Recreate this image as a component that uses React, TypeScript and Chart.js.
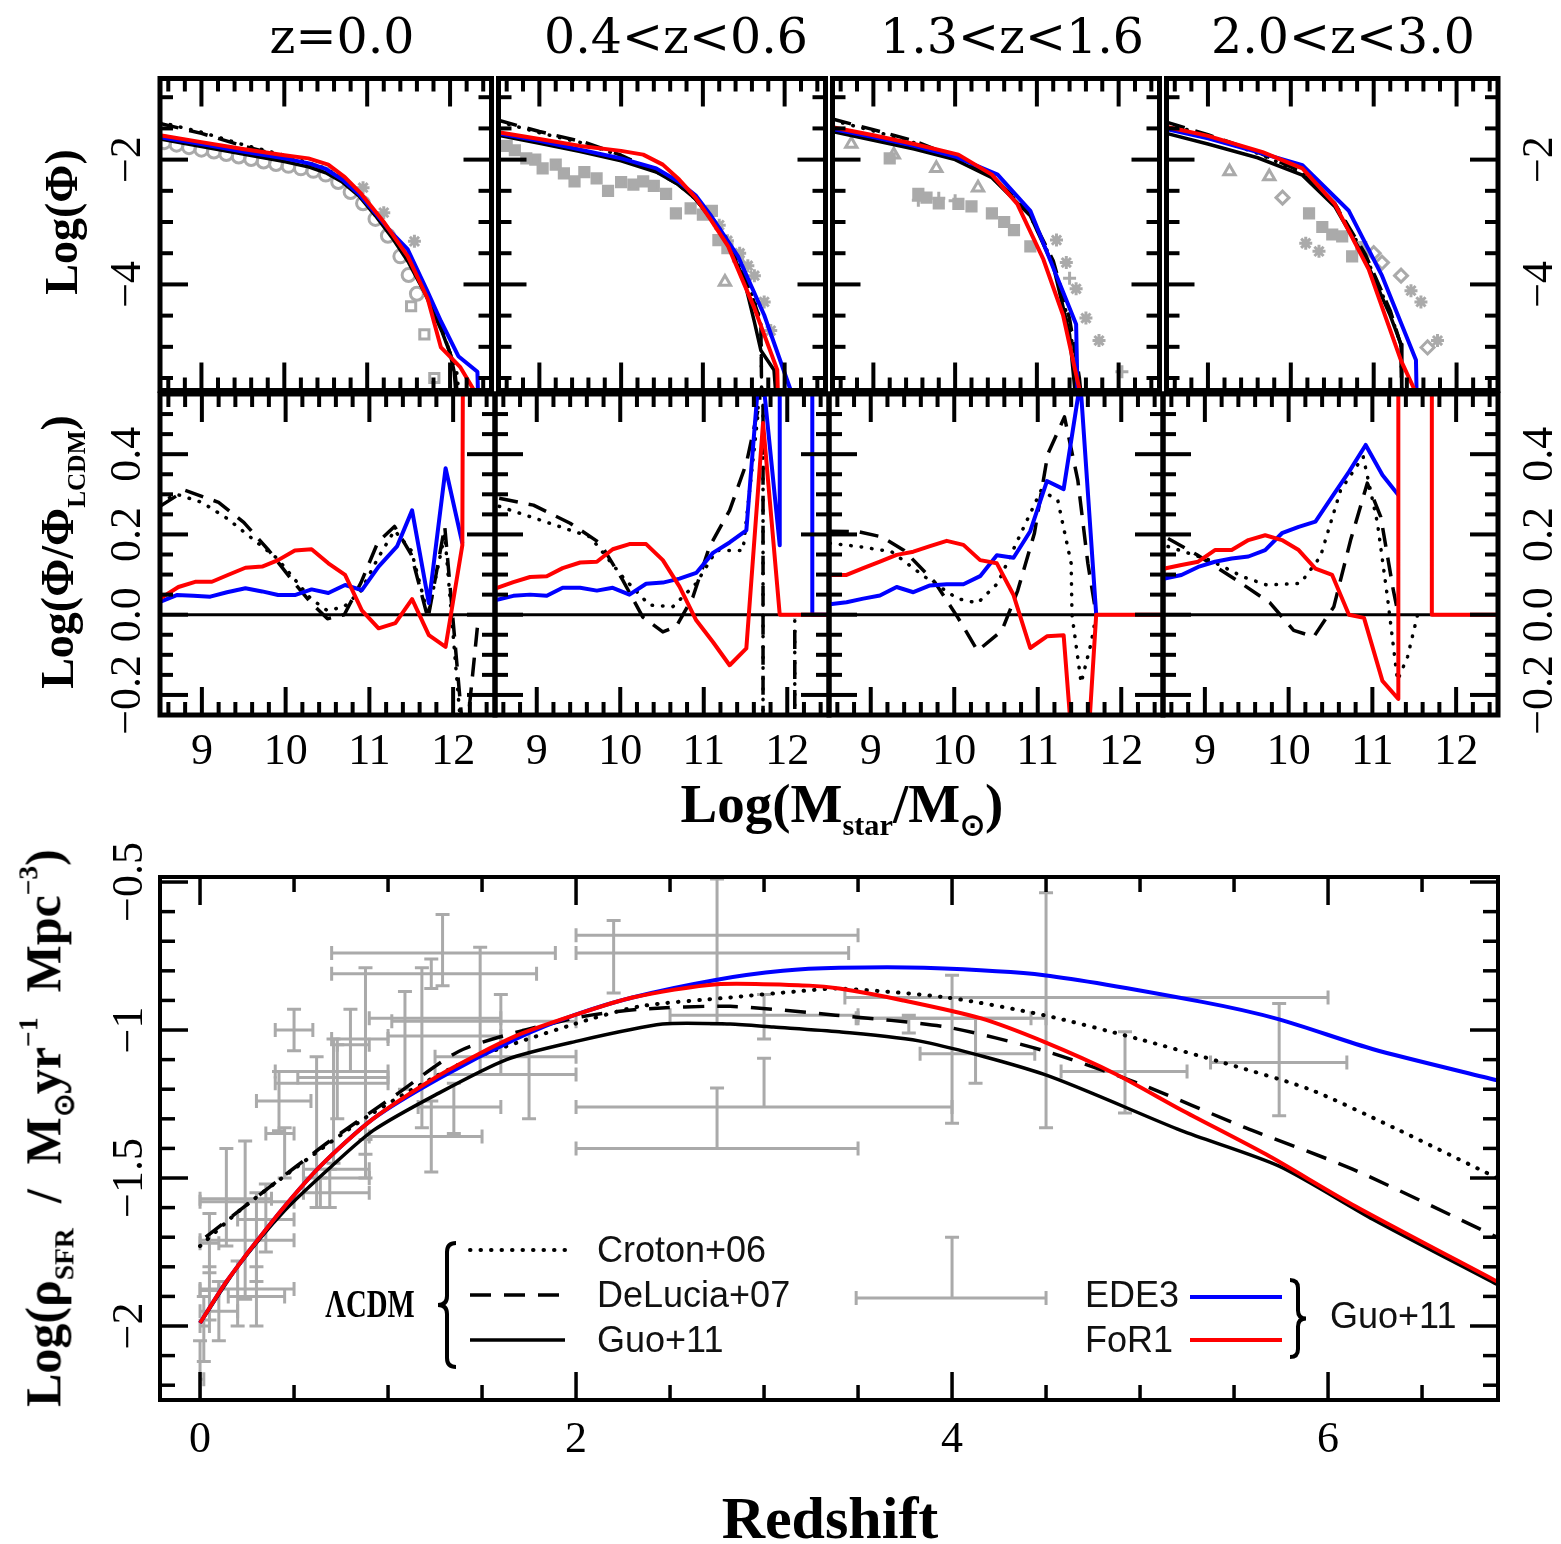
import React, { useEffect, useRef } from 'react';
import { Chart, registerables } from 'chart.js';

Chart.register(...registerables);

type XY = [number, number];
// [x, y, xLow, xHigh, yLow, yHigh]
type Bar = [number, number, number, number, number, number];

// ---------- Stellar mass functions: log(Phi) vs log(Mstar) ----------
// z = 0.0
const mfZ0For1: XY[] = [[8.5,-1.61],[9.0,-1.72],[9.5,-1.83],[10.0,-1.93],[10.29,-1.98],[10.53,-2.08],[10.73,-2.28],[10.93,-2.55],[11.2,-3.0],[11.49,-3.55],[11.73,-4.23],[11.89,-5.01],[12.12,-5.32],[12.3,-5.72]];
const mfZ0Ede3: XY[] = [[8.5,-1.64],[9.0,-1.75],[9.5,-1.87],[10.0,-1.98],[10.3,-2.06],[10.5,-2.15],[10.7,-2.32],[10.9,-2.55],[11.1,-2.86],[11.3,-3.18],[11.49,-3.44],[11.73,-4.12],[11.89,-4.59],[12.1,-5.15],[12.33,-5.4],[12.34,-5.9]];
const mfZ0Guo: XY[] = [[8.5,-1.67],[9.0,-1.79],[9.5,-1.91],[10.0,-2.03],[10.3,-2.12],[10.5,-2.21],[10.7,-2.36],[10.9,-2.58],[11.1,-2.9],[11.3,-3.25],[11.5,-3.65],[11.7,-4.15],[11.9,-4.75],[12.0,-5.1],[12.05,-5.4],[12.08,-5.9]];
const mfZ0DeLucia: XY[] = [[8.5,-1.42],[9.0,-1.58],[9.5,-1.78],[10.0,-1.95],[10.5,-2.15],[10.7,-2.32],[10.9,-2.55],[11.1,-2.86],[11.3,-3.2],[11.5,-3.6],[11.7,-4.1],[11.9,-4.7],[12.05,-5.3],[12.1,-5.9]];
const mfZ0Croton: XY[] = [[8.5,-1.4],[9.0,-1.56],[9.5,-1.76],[10.0,-1.93],[10.5,-2.14],[10.7,-2.31],[10.9,-2.54],[11.1,-2.85],[11.3,-3.19],[11.5,-3.6],[11.7,-4.12],[11.9,-4.72],[12.08,-5.4],[12.12,-5.9]];
const obsZ0Circles: XY[] = [[8.55,-1.72],[8.7,-1.76],[8.85,-1.8],[9.0,-1.84],[9.15,-1.87],[9.3,-1.91],[9.45,-1.95],[9.6,-1.99],[9.75,-2.03],[9.9,-2.07],[10.05,-2.1],[10.2,-2.14],[10.35,-2.18],[10.5,-2.24],[10.65,-2.36],[10.8,-2.52],[10.95,-2.7],[11.1,-2.95],[11.25,-3.22],[11.4,-3.55],[11.5,-3.85],[11.6,-4.15]];
const obsZ0Squares: XY[] = [[11.53,-4.35],[11.69,-4.8],[11.81,-5.5]];
const obsZ0Stars: XY[] = [[11.57,-3.31],[10.95,-2.45],[11.2,-2.85]];

// 0.4 < z < 0.6
const mfZ05For1: XY[] = [[8.5,-1.56],[9.0,-1.67],[9.5,-1.78],[10.0,-1.86],[10.27,-1.92],[10.51,-2.08],[10.71,-2.32],[10.91,-2.61],[11.1,-2.97],[11.31,-3.39],[11.63,-4.38],[11.91,-5.37],[11.92,-5.9]];
const mfZ05Ede3: XY[] = [[8.5,-1.58],[9.0,-1.7],[9.5,-1.84],[10.0,-1.98],[10.43,-2.14],[10.7,-2.35],[10.91,-2.57],[11.1,-2.9],[11.43,-3.55],[11.75,-4.49],[12.07,-5.68],[12.1,-5.9]];
const mfZ05Guo: XY[] = [[8.5,-1.61],[9.0,-1.74],[9.5,-1.87],[10.0,-2.02],[10.43,-2.2],[10.7,-2.4],[10.91,-2.63],[11.1,-2.95],[11.3,-3.35],[11.5,-3.9],[11.63,-4.6],[11.71,-5.06],[11.87,-5.37],[11.9,-5.9]];
const mfZ05DeLucia: XY[] = [[8.5,-1.37],[9.0,-1.55],[9.55,-1.72],[10.0,-1.93],[10.4,-2.17],[10.7,-2.4],[10.9,-2.62],[11.1,-2.93],[11.3,-3.3],[11.5,-3.8],[11.67,-4.45],[11.71,-4.7],[11.72,-5.9]];
const mfZ05Croton: XY[] = [[8.5,-1.39],[9.0,-1.57],[9.55,-1.74],[10.0,-1.94],[10.4,-2.17],[10.7,-2.39],[10.9,-2.6],[11.1,-2.91],[11.3,-3.28],[11.5,-3.78],[11.67,-4.42],[11.71,-4.65],[11.72,-5.9]];
const obsZ05Squares: XY[] = [[8.6,-1.78],[8.7,-1.85],[8.84,-1.98],[8.95,-2.0],[9.04,-2.14],[9.2,-2.08],[9.3,-2.22],[9.43,-2.35],[9.55,-2.2],[9.7,-2.3],[9.84,-2.5],[10.0,-2.36],[10.15,-2.4],[10.27,-2.35],[10.4,-2.42],[10.55,-2.55],[10.67,-2.86],[10.85,-2.78],[11.0,-2.88],[11.11,-2.82],[11.19,-3.29],[11.3,-3.42],[11.43,-3.55]];
const obsZ05Triangles: XY[] = [[11.27,-3.96]];
const obsZ05Stars: XY[] = [[11.2,-3.05],[11.3,-3.3],[11.45,-3.5],[11.55,-3.7],[11.63,-3.86],[11.75,-4.28],[11.83,-4.74]];

// 1.3 < z < 1.6
const mfZ15For1: XY[] = [[8.5,-1.48],[9.0,-1.61],[9.5,-1.75],[10.04,-1.92],[10.45,-2.24],[10.76,-2.71],[11.08,-3.6],[11.32,-4.49],[11.52,-5.68],[11.54,-5.9]];
const mfZ15Ede3: XY[] = [[8.5,-1.51],[9.0,-1.64],[9.5,-1.78],[10.0,-1.95],[10.52,-2.24],[10.92,-2.82],[11.24,-3.86],[11.48,-4.64],[11.5,-5.9]];
const mfZ15Guo: XY[] = [[8.5,-1.55],[9.0,-1.69],[9.5,-1.83],[10.0,-2.0],[10.45,-2.29],[10.92,-2.9],[11.2,-3.7],[11.4,-4.8],[11.48,-5.9]];
const mfZ15DeLucia: XY[] = [[8.5,-1.35],[9.0,-1.52],[9.5,-1.7],[10.0,-1.96],[10.45,-2.26],[10.9,-2.83],[11.2,-3.62],[11.4,-4.55],[11.52,-5.5],[11.55,-5.9]];
const mfZ15Croton: XY[] = [[8.5,-1.37],[9.0,-1.54],[9.5,-1.73],[10.0,-1.97],[10.45,-2.27],[10.9,-2.85],[11.2,-3.66],[11.4,-4.65],[11.5,-5.6],[11.52,-5.9]];
const obsZ15Triangles: XY[] = [[8.73,-1.75],[9.25,-1.92],[9.77,-2.14],[10.28,-2.45]];
const obsZ15Squares: XY[] = [[9.2,-1.98],[9.55,-2.55],[9.65,-2.61],[9.8,-2.7],[10.04,-2.71],[10.2,-2.75],[10.45,-2.86],[10.6,-3.0],[10.72,-3.13],[10.92,-3.39]];
const obsZ15Crosses: XY[] = [[9.55,-2.65],[9.8,-2.62],[10.0,-2.66],[11.4,-3.9],[12.04,-5.4]];
const obsZ15Stars: XY[] = [[11.24,-3.29],[11.36,-3.65],[11.48,-4.07],[11.6,-4.54],[11.76,-4.9]];

// 2.0 < z < 3.0
const mfZ25For1: XY[] = [[8.52,-1.48],[9.0,-1.62],[9.66,-1.88],[10.14,-2.14],[10.53,-2.71],[10.94,-3.76],[11.33,-5.22],[11.49,-5.68],[11.5,-5.9]];
const mfZ25Ede3: XY[] = [[8.5,-1.51],[9.0,-1.66],[9.6,-1.88],[10.14,-2.09],[10.7,-2.82],[11.1,-3.86],[11.51,-5.21],[11.52,-5.9]];
const mfZ25Guo: XY[] = [[8.5,-1.58],[9.0,-1.75],[9.6,-1.97],[10.14,-2.25],[10.53,-2.75],[10.9,-3.6],[11.2,-4.5],[11.33,-4.96],[11.34,-5.9]];
const mfZ25DeLucia: XY[] = [[8.5,-1.4],[9.0,-1.6],[9.6,-1.88],[10.14,-2.2],[10.53,-2.7],[10.9,-3.52],[11.2,-4.42],[11.33,-4.98],[11.34,-5.9]];
const mfZ25Croton: XY[] = [[8.5,-1.42],[9.0,-1.62],[9.6,-1.9],[10.14,-2.21],[10.53,-2.71],[10.9,-3.54],[11.2,-4.45],[11.33,-4.98],[11.34,-5.9]];
const obsZ25Triangles: XY[] = [[9.26,-2.19],[9.74,-2.27]];
const obsZ25Diamonds: XY[] = [[9.9,-2.61],[11.0,-3.5],[11.1,-3.65],[11.33,-3.86],[11.65,-5.01]];
const obsZ25Squares: XY[] = [[10.22,-2.86],[10.38,-3.08],[10.5,-3.2],[10.62,-3.23],[10.74,-3.55],[10.85,-3.4]];
const obsZ25Stars: XY[] = [[10.18,-3.34],[10.34,-3.47],[11.45,-4.1],[11.57,-4.28],[11.77,-4.9]];

// ---------- log(Phi / Phi_LCDM), relative to Guo+11 LCDM ----------
const ratioZero: XY[] = [[8.5,0],[12.5,0]];
const rZ0For1: XY[] = [[8.5,0.04],[8.72,0.069],[8.92,0.082],[9.12,0.082],[9.31,0.099],[9.52,0.117],[9.72,0.12],[9.91,0.136],[10.11,0.16],[10.31,0.163],[10.51,0.128],[10.71,0.099],[10.91,0.011],[11.11,-0.034],[11.31,-0.021],[11.51,0.039],[11.71,-0.051],[11.91,-0.08],[12.11,0.173],[12.13,1.5]];
const rZ0Ede3: XY[] = [[8.5,0.032],[8.7,0.049],[8.9,0.047],[9.1,0.045],[9.3,0.056],[9.52,0.066],[9.72,0.058],[9.91,0.049],[10.11,0.049],[10.31,0.063],[10.51,0.054],[10.71,0.074],[10.91,0.061],[11.11,0.12],[11.33,0.17],[11.51,0.26],[11.71,0.029],[11.91,0.365],[12.11,0.178]];
const rZ0Croton: XY[] = [[8.5,0.28],[8.7,0.3],[9.0,0.28],[9.3,0.24],[9.6,0.19],[9.9,0.14],[10.1,0.09],[10.3,0.04],[10.5,0.01],[10.7,0.02],[10.9,0.06],[11.1,0.14],[11.3,0.21],[11.5,0.16],[11.7,0.0],[11.9,0.2],[12.1,-0.3]];
const rZ0DeLucia: XY[] = [[8.5,0.27],[8.8,0.31],[9.2,0.28],[9.5,0.23],[9.8,0.16],[10.1,0.08],[10.3,0.03],[10.5,-0.01],[10.7,0.0],[10.9,0.08],[11.1,0.18],[11.3,0.22],[11.5,0.15],[11.7,-0.01],[11.9,0.22],[12.12,-0.3],[12.16,-0.3],[12.3,-0.01]];

const rZ05For1: XY[] = [[8.5,1.5],[8.5,0.065],[8.72,0.081],[8.92,0.094],[9.12,0.096],[9.31,0.116],[9.52,0.13],[9.72,0.132],[9.91,0.163],[10.11,0.176],[10.31,0.176],[10.51,0.136],[10.71,0.07],[10.91,-0.014],[11.11,-0.068],[11.31,-0.126],[11.51,-0.084],[11.71,0.478],[11.91,0.0],[12.5,0.0]];
const rZ05Ede3: XY[] = [[8.5,0.036],[8.72,0.047],[8.92,0.05],[9.12,0.047],[9.31,0.067],[9.52,0.067],[9.72,0.06],[9.91,0.067],[10.11,0.05],[10.31,0.077],[10.51,0.08],[10.71,0.09],[10.91,0.104],[11.11,0.154],[11.31,0.18],[11.51,0.21],[11.68,0.65],[11.91,0.173],[11.91,1.5],[12.3,1.5],[12.3,0.0],[12.5,0.0]];
const rZ05Croton: XY[] = [[8.55,0.27],[9.04,0.236],[9.64,0.194],[10.03,0.094],[10.35,0.024],[10.63,0.02],[10.91,0.078],[11.15,0.16],[11.47,0.16],[11.65,0.5],[11.71,1.5],[11.71,-1.5],[12.09,-1.5],[12.09,-0.01]];
const rZ05DeLucia: XY[] = [[8.55,0.29],[8.96,0.273],[9.4,0.228],[9.76,0.178],[10.03,0.086],[10.27,-0.006],[10.51,-0.043],[10.67,-0.03],[10.87,0.044],[11.07,0.17],[11.31,0.26],[11.51,0.377],[11.67,0.53],[11.71,1.5],[11.71,-1.5],[12.09,-1.5],[12.09,-0.01]];

const rZ15For1: XY[] = [[8.51,0.099],[8.71,0.099],[8.91,0.116],[9.11,0.132],[9.31,0.149],[9.51,0.157],[9.71,0.171],[9.91,0.184],[10.11,0.174],[10.31,0.136],[10.51,0.128],[10.71,0.049],[10.91,-0.083],[11.11,-0.054],[11.31,-0.051],[11.44,-0.4],[11.58,-0.4],[11.7,0.0],[12.5,0.0]];
const rZ15Ede3: XY[] = [[8.51,0.026],[8.71,0.031],[8.91,0.04],[9.11,0.048],[9.31,0.069],[9.51,0.056],[9.71,0.073],[9.91,0.076],[10.11,0.076],[10.31,0.096],[10.51,0.148],[10.71,0.142],[10.91,0.208],[11.11,0.333],[11.31,0.313],[11.51,0.58],[11.7,0.0]];
const rZ15Croton: XY[] = [[8.51,0.178],[8.85,0.17],[9.25,0.157],[9.65,0.094],[10.04,0.04],[10.28,0.029],[10.52,0.078],[10.76,0.186],[11.04,0.31],[11.24,0.285],[11.4,0.128],[11.41,0.0],[11.52,-0.17],[11.64,-0.07],[11.7,0.0]];
const rZ15DeLucia: XY[] = [[8.51,0.208],[8.85,0.207],[9.13,0.194],[9.4,0.16],[9.77,0.08],[10.04,-0.006],[10.28,-0.09],[10.57,-0.04],[10.76,0.06],[10.96,0.203],[11.12,0.4],[11.32,0.493],[11.48,0.335],[11.6,0.128],[11.7,0.0]];

const rZ25For1: XY[] = [[8.52,0.115],[8.72,0.124],[8.92,0.132],[9.12,0.161],[9.32,0.161],[9.52,0.186],[9.72,0.198],[9.92,0.186],[10.12,0.161],[10.32,0.115],[10.52,0.099],[10.72,0.0],[10.9,-0.008],[11.12,-0.165],[11.31,-0.21],[11.31,1.5],[11.71,1.5],[11.71,0.0],[12.5,0.0]];
const rZ25Ede3: XY[] = [[8.52,0.09],[8.72,0.099],[8.92,0.119],[9.12,0.132],[9.32,0.14],[9.52,0.145],[9.72,0.161],[9.92,0.203],[10.12,0.219],[10.32,0.232],[10.52,0.294],[10.72,0.356],[10.92,0.423],[11.12,0.348],[11.31,0.298]];
const rZ25Croton: XY[] = [[8.56,0.17],[9.06,0.136],[9.46,0.094],[9.74,0.074],[10.14,0.078],[10.38,0.145],[10.62,0.31],[10.89,0.394],[11.06,0.229],[11.18,0.044],[11.3,-0.164],[11.42,-0.105],[11.54,0.0]];
const rZ25DeLucia: XY[] = [[8.56,0.19],[8.9,0.15],[9.38,0.086],[9.78,0.029],[10.06,-0.039],[10.3,-0.055],[10.54,0.02],[10.74,0.186],[10.94,0.328],[11.1,0.244],[11.25,0.061],[11.31,0.0]];

// ---------- Cosmic star formation rate density vs redshift ----------
const sfrCroton: XY[] = [[0.0,-1.73],[0.21,-1.61],[0.52,-1.46],[0.92,-1.28],[1.4,-1.11],[1.99,-0.98],[2.34,-0.92],[2.82,-0.89],[3.17,-0.87],[3.4,-0.86],[3.97,-0.89],[4.49,-0.95],[4.99,-1.03],[5.44,-1.11],[5.9,-1.2],[6.35,-1.33],[6.9,-1.5]];
const sfrDeLucia: XY[] = [[0.03,-1.7],[0.33,-1.55],[0.69,-1.375],[1.04,-1.22],[1.4,-1.065],[1.99,-0.96],[2.34,-0.93],[2.82,-0.92],[3.38,-0.95],[3.97,-0.99],[4.49,-1.07],[4.99,-1.18],[5.56,-1.33],[6.13,-1.47],[6.9,-1.7]];
const sfrGuo: XY[] = [[0.0,-1.99],[0.2,-1.8],[0.45,-1.61],[0.7,-1.46],[0.92,-1.34],[1.25,-1.22],[1.63,-1.1],[1.99,-1.04],[2.46,-0.98],[2.82,-0.98],[3.05,-0.99],[3.4,-1.006],[3.85,-1.04],[4.49,-1.15],[5.22,-1.34],[5.74,-1.46],[6.24,-1.64],[6.9,-1.86]];
const sfrEde3: XY[] = [[0.0,-1.99],[0.14,-1.85],[0.38,-1.65],[0.64,-1.46],[0.92,-1.3],[1.28,-1.16],[1.68,-1.03],[1.99,-0.95],[2.3,-0.89],[2.75,-0.83],[3.1,-0.8],[3.4,-0.79],[3.85,-0.79],[4.49,-0.815],[5.33,-0.905],[5.74,-0.964],[6.24,-1.065],[6.9,-1.17]];
const sfrFor1: XY[] = [[0.0,-1.99],[0.14,-1.85],[0.38,-1.65],[0.64,-1.46],[0.92,-1.3],[1.28,-1.15],[1.68,-1.02],[1.99,-0.95],[2.3,-0.89],[2.75,-0.845],[3.24,-0.85],[3.4,-0.86],[3.74,-0.9],[4.15,-0.96],[4.49,-1.04],[4.875,-1.15],[5.22,-1.27],[5.67,-1.42],[6.13,-1.59],[6.9,-1.85]];
const sfrObs: Bar[] = [
  [0.0,-2.18,0.0,0.02,-2.27,-2.05],[0.02,-2.0,0.0,0.05,-2.12,-1.9],[0.05,-1.88,0.0,0.1,-1.98,-1.8],[0.05,-1.72,0.0,0.1,-1.82,-1.62],
  [0.14,-1.57,0.0,0.38,-1.73,-1.4],[0.24,-1.58,0.0,0.5,-1.91,-1.375],[0.3,-1.71,0.0,0.5,-1.85,-1.55],[0.2,-1.875,0.0,0.5,-2.0,-1.78],
  [0.3,-1.9,0.15,0.45,-2.0,-1.8],[0.1,-1.95,0.0,0.2,-2.05,-1.85],[0.35,-1.64,0.2,0.5,-1.75,-1.52],
  [0.5,-1.0,0.4,0.6,-1.07,-0.93],[0.42,-1.24,0.3,0.59,-1.34,-1.14],[0.45,-1.35,0.35,0.5,-1.5,-1.33],[0.62,-1.18,0.4,1.0,-1.6,-1.09],
  [0.71,-1.14,0.4,1.0,-1.45,-1.03],[0.73,-1.16,0.52,1.0,-1.3,-1.05],[0.88,-1.05,0.73,0.9,-1.42,-0.79],[0.8,-1.03,0.7,1.0,-1.14,-0.93],
  [0.88,-1.47,0.55,0.9,-1.5,-1.37],[0.64,-1.55,0.55,0.9,-1.6,-1.5],[0.69,-1.5,0.55,0.9,-1.6,-1.47],
  [1.09,-0.96,0.9,1.6,-1.2,-0.87],[1.18,-1.02,1.0,1.6,-1.33,-0.79],[1.23,-1.36,0.9,1.5,-1.48,-1.24],[1.35,-1.26,1.16,1.6,-1.35,-1.18],
  [1.49,-0.97,1.02,2.0,-1.15,-0.72],[1.6,-1.09,1.25,2.0,-1.15,-0.88],[1.75,-1.15,1.25,2.0,-1.3,-1.0],
  [1.29,-0.74,0.7,1.89,-0.85,-0.61],[1.23,-0.81,0.7,1.79,-0.86,-0.76],
  [2.2,-0.74,2.0,3.45,-0.875,-0.63],[2.75,-0.68,2.0,3.5,-0.98,-0.49],[2.75,-1.4,2.0,3.5,-1.4,-1.196],[3.0,-1.26,2.0,4.0,-1.26,-1.095],
  [3.0,-0.95,2.5,3.5,-1.03,-0.88],[3.77,-0.96,3.49,4.42,-1.01,-0.95],[4.0,-0.96,3.5,4.5,-1.315,-0.815],[4.125,-1.08,3.83,4.44,-1.18,-0.96],
  [4.5,-0.89,3.43,6.0,-1.33,-0.536],[4.92,-1.14,4.58,5.25,-1.28,-1.006],[5.74,-1.11,5.375,6.1,-1.29,-0.91],[4.0,-1.905,3.49,4.5,-1.905,-1.7],
];

// ---------- axis ticks ----------
const massTicks = [9, 10, 11, 12];
const phiTicks = [-4, -2];
const ratioTicks = [-0.2, 0, 0.2, 0.4];
const redshiftTicks = [0, 2, 4, 6];
const sfrTicks = [-2, -1.5, -1, -0.5];
const panelTitles = ['z=0.0', '0.4<z<0.6', '1.3<z<1.6', '2.0<z<3.0'];

const RED = '#ff0000';
const BLUE = '#0000ff';
const BLACK = '#000000';
const GRAY = '#aaaaaa';

const COL_X = [160, 495, 829, 1163, 1498];
const MF_ROW = [75, 394];
const RATIO_ROW = [394, 715];
const SFR_FRAME = [160, 877, 1498, 1400];

const MF_X: [number, number] = [8.5, 12.5];
const MF_Y: [number, number] = [-5.7, -0.7];
const RATIO_Y: [number, number] = [-0.25, 0.55];
const SFR_X: [number, number] = [-0.213, 6.904];
const SFR_Y: [number, number] = [-2.25, -0.483];

const TICK_FONT = '44px "Liberation Serif"';
const minus = (s: string) => s.replace('-', '\u2212');

type Style = 'solid' | 'dash' | 'dot';
const line = (data: XY[], color: string, width: number, style: Style = 'solid', smooth = false) => ({
  data: data.map(([x, y]) => ({ x, y })),
  showLine: true,
  pointRadius: 0,
  borderColor: color,
  borderWidth: width,
  borderDash: style === 'dash' ? [19, 11] : style === 'dot' ? [0.5, 10] : [],
  borderCapStyle: style === 'dot' ? 'round' : 'butt',
  borderJoinStyle: 'round',
  fill: false,
  tension: smooth ? 0.25 : 0,
});

const marks = (data: XY[], pointStyle: string, filled: boolean) => ({
  data: data.map(([x, y]) => ({ x, y })),
  showLine: false,
  pointStyle,
  pointRadius: 6.5,
  pointBorderWidth: 3,
  pointBorderColor: GRAY,
  pointBackgroundColor: filled ? GRAY : 'rgba(0,0,0,0)',
});

interface FrameCfg {
  xMinor: number; xMajor: number[];
  yMinor: number; yMajor: number[];
  longLen: number; shortLen: number; tickW: number; frameW: number;
  xLabels?: [number, string][]; xLabelOff?: number;
  yLabelsL?: [number, string][]; yLabelsR?: [number, string][];
  yOffL?: number; yOffR?: number;
}

const steps = (min: number, max: number, step: number) => {
  const out: number[] = [];
  for (let k = Math.ceil(min / step - 1e-9); k * step <= max + 1e-9; k++) out.push(+(k * step).toFixed(6));
  return out;
};

// Box frame with inward ticks on all four sides, plus tick labels
const framePlugin = (cfg: FrameCfg) => ({
  id: 'boxFrame',
  afterDatasetsDraw(chart: any) {
    const { ctx, chartArea: a } = chart;
    const sx = chart.scales.x;
    const sy = chart.scales.y;
    const isMajor = (v: number, list: number[]) => list.some((m) => Math.abs(m - v) < 1e-6);
    const seg = (x1: number, y1: number, x2: number, y2: number) => {
      ctx.beginPath(); ctx.moveTo(x1, y1); ctx.lineTo(x2, y2); ctx.stroke();
    };
    ctx.save();
    ctx.strokeStyle = BLACK;
    ctx.lineCap = 'butt';
    ctx.lineWidth = cfg.tickW;
    for (const v of steps(sx.min, sx.max, cfg.xMinor)) {
      const px = sx.getPixelForValue(v);
      const len = isMajor(v, cfg.xMajor) ? cfg.longLen : cfg.shortLen;
      seg(px, a.top, px, a.top + len);
      seg(px, a.bottom, px, a.bottom - len);
    }
    for (const v of steps(sy.min, sy.max, cfg.yMinor)) {
      const py = sy.getPixelForValue(v);
      const len = isMajor(v, cfg.yMajor) ? cfg.longLen : cfg.shortLen;
      seg(a.left, py, a.left + len, py);
      seg(a.right, py, a.right - len, py);
    }
    ctx.lineWidth = cfg.frameW;
    ctx.strokeRect(a.left, a.top, a.right - a.left, a.bottom - a.top);

    ctx.fillStyle = BLACK;
    ctx.font = TICK_FONT;
    ctx.textAlign = 'center';
    ctx.textBaseline = 'middle';
    for (const [v, s] of cfg.xLabels || []) {
      ctx.fillText(s, sx.getPixelForValue(v), a.bottom + (cfg.xLabelOff || 37));
    }
    const rotLabel = (x: number, y: number, s: string) => {
      ctx.save(); ctx.translate(x, y); ctx.rotate(-Math.PI / 2); ctx.fillText(s, 0, 0); ctx.restore();
    };
    for (const [v, s] of cfg.yLabelsL || []) rotLabel(a.left - (cfg.yOffL || 32), sy.getPixelForValue(v), s);
    for (const [v, s] of cfg.yLabelsR || []) rotLabel(a.right + (cfg.yOffR || 42), sy.getPixelForValue(v), s);
    ctx.restore();
  },
});

const errorBarPlugin = (bars: Bar[]) => ({
  id: 'errorBars',
  beforeDatasetsDraw(chart: any) {
    const { ctx, chartArea: a } = chart;
    const sx = chart.scales.x;
    const sy = chart.scales.y;
    const cap = 7;
    ctx.save();
    ctx.beginPath();
    ctx.rect(a.left, a.top, a.right - a.left, a.bottom - a.top);
    ctx.clip();
    ctx.strokeStyle = GRAY;
    ctx.lineWidth = 3;
    for (const [cx, cy, xlo, xhi, ylo, yhi] of bars) {
      const px = sx.getPixelForValue(cx);
      const py = sy.getPixelForValue(cy);
      const pxl = sx.getPixelForValue(xlo);
      const pxh = sx.getPixelForValue(xhi);
      const pyl = sy.getPixelForValue(ylo);
      const pyh = sy.getPixelForValue(yhi);
      ctx.beginPath();
      ctx.moveTo(pxl, py); ctx.lineTo(pxh, py);
      ctx.moveTo(px, pyl); ctx.lineTo(px, pyh);
      if (Math.abs(xlo - cx) > 1e-6) { ctx.moveTo(pxl, py - cap); ctx.lineTo(pxl, py + cap); }
      if (Math.abs(xhi - cx) > 1e-6) { ctx.moveTo(pxh, py - cap); ctx.lineTo(pxh, py + cap); }
      if (Math.abs(ylo - cy) > 1e-6) { ctx.moveTo(px - cap, pyl); ctx.lineTo(px + cap, pyl); }
      if (Math.abs(yhi - cy) > 1e-6) { ctx.moveTo(px - cap, pyh); ctx.lineTo(px + cap, pyh); }
      ctx.stroke();
    }
    ctx.restore();
  },
});

const brace = (ctx: CanvasRenderingContext2D, x: number, y0: number, y1: number, d: number, w: number) => {
  const ym = (y0 + y1) / 2;
  const h = w / 2;
  ctx.beginPath();
  ctx.moveTo(x + d * h, y0);
  ctx.quadraticCurveTo(x, y0, x, y0 + h);
  ctx.lineTo(x, ym - h);
  ctx.quadraticCurveTo(x, ym, x - d * h, ym);
  ctx.quadraticCurveTo(x, ym, x, ym + h);
  ctx.lineTo(x, y1 - h);
  ctx.quadraticCurveTo(x, y1, x + d * h, y1);
  ctx.stroke();
};

// Legend of the SFR panel (model groups with braces)
const sfrLegendPlugin = {
  id: 'sfrLegend',
  afterDatasetsDraw(chart: any) {
    const { ctx, chartArea: a } = chart;
    const X = (px: number) => a.left + px - 160;
    const Y = (py: number) => a.top + py - 877;
    const sample = (x1: number, x2: number, y: number, color: string, dash: number[], cap: CanvasLineCap, w: number) => {
      ctx.save();
      ctx.strokeStyle = color; ctx.lineWidth = w; ctx.setLineDash(dash); ctx.lineCap = cap;
      ctx.beginPath(); ctx.moveTo(X(x1), Y(y)); ctx.lineTo(X(x2), Y(y)); ctx.stroke();
      ctx.restore();
    };
    ctx.save();
    sample(470, 565, 1250, BLACK, [0.5, 10], 'round', 4);
    sample(470, 565, 1295, BLACK, [21, 13], 'butt', 3.5);
    sample(470, 565, 1340, BLACK, [], 'butt', 3.5);
    sample(1190, 1282, 1297, BLUE, [], 'butt', 4);
    sample(1190, 1282, 1340, RED, [], 'butt', 4);

    ctx.fillStyle = '#111';
    ctx.font = '36px "Liberation Sans"';
    ctx.textBaseline = 'middle';
    ctx.textAlign = 'left';
    ctx.fillText('Croton+06', X(597), Y(1252));
    ctx.fillText('DeLucia+07', X(597), Y(1297));
    ctx.fillText('Guo+11', X(597), Y(1342));
    ctx.fillText('Guo+11', X(1330), Y(1318));
    ctx.textAlign = 'right';
    ctx.fillText('EDE3', X(1179), Y(1297));
    ctx.fillText('FoR1', X(1173), Y(1342));

    ctx.save();
    ctx.translate(X(370), Y(1307));
    ctx.scale(0.72, 1);
    ctx.font = 'bold 40px "Liberation Serif"';
    ctx.textAlign = 'center';
    ctx.fillStyle = BLACK;
    ctx.fillText('\u039BCDM', 0, 0);
    ctx.restore();

    ctx.strokeStyle = BLACK;
    ctx.lineWidth = 4;
    brace(ctx, X(447), Y(1243), Y(1367), 1, 18);
    brace(ctx, X(1298), Y(1280), Y(1357), -1, 16);
    ctx.restore();
  },
};

const baseOptions = (xr: [number, number], yr: [number, number]) => ({
  responsive: false,
  animation: false,
  devicePixelRatio: 1,
  events: [],
  plugins: { legend: { display: false }, tooltip: { enabled: false } },
  scales: {
    x: { type: 'linear', min: xr[0], max: xr[1], display: false },
    y: { type: 'linear', min: yr[0], max: yr[1], display: false },
  },
});

interface MfPanel {
  for1: XY[]; ede3: XY[]; guo: XY[]; delucia: XY[]; croton: XY[];
  obs: [XY[], string, boolean][];
}
interface RatioPanel { for1: XY[]; ede3: XY[]; delucia: XY[]; croton: XY[] }

const MF_PANELS: MfPanel[] = [
  { for1: mfZ0For1, ede3: mfZ0Ede3, guo: mfZ0Guo, delucia: mfZ0DeLucia, croton: mfZ0Croton,
    obs: [[obsZ0Circles, 'circle', false], [obsZ0Squares, 'rect', false], [obsZ0Stars, 'star', false]] },
  { for1: mfZ05For1, ede3: mfZ05Ede3, guo: mfZ05Guo, delucia: mfZ05DeLucia, croton: mfZ05Croton,
    obs: [[obsZ05Squares, 'rect', true], [obsZ05Triangles, 'triangle', false], [obsZ05Stars, 'star', false]] },
  { for1: mfZ15For1, ede3: mfZ15Ede3, guo: mfZ15Guo, delucia: mfZ15DeLucia, croton: mfZ15Croton,
    obs: [[obsZ15Triangles, 'triangle', false], [obsZ15Squares, 'rect', true], [obsZ15Crosses, 'cross', false], [obsZ15Stars, 'star', false]] },
  { for1: mfZ25For1, ede3: mfZ25Ede3, guo: mfZ25Guo, delucia: mfZ25DeLucia, croton: mfZ25Croton,
    obs: [[obsZ25Triangles, 'triangle', false], [obsZ25Diamonds, 'rectRot', false], [obsZ25Squares, 'rect', true], [obsZ25Stars, 'star', false]] },
];

const RATIO_PANELS: RatioPanel[] = [
  { for1: rZ0For1, ede3: rZ0Ede3, delucia: rZ0DeLucia, croton: rZ0Croton },
  { for1: rZ05For1, ede3: rZ05Ede3, delucia: rZ05DeLucia, croton: rZ05Croton },
  { for1: rZ15For1, ede3: rZ15Ede3, delucia: rZ15DeLucia, croton: rZ15Croton },
  { for1: rZ25For1, ede3: rZ25Ede3, delucia: rZ25DeLucia, croton: rZ25Croton },
];

const phiLabels: [number, string][] = phiTicks.map((v) => [v, minus(String(v))]);
const ratioLabels: [number, string][] = ratioTicks.map((v) => [v, minus(v.toFixed(1))]);
const massLabels: [number, string][] = massTicks.map((v) => [v, String(v)]);

const mfConfig = (col: number) => () => {
  const p = MF_PANELS[col];
  const datasets: any[] = [
    line(p.for1, RED, 4),
    line(p.ede3, BLUE, 4),
    line(p.croton, BLACK, 3.5, 'dot'),
    line(p.delucia, BLACK, 3.5, 'dash'),
    line(p.guo, BLACK, 3.5),
    ...p.obs.map(([d, st, f]) => marks(d, st, f)),
  ];
  return {
    type: 'scatter',
    data: { datasets },
    options: baseOptions(MF_X, MF_Y),
    plugins: [framePlugin({
      xMinor: 0.2, xMajor: massTicks, yMinor: 0.5, yMajor: phiTicks,
      longLen: 28, shortLen: 13, tickW: 4, frameW: 5,
      yLabelsL: col === 0 ? phiLabels : undefined,
      yLabelsR: col === 3 ? phiLabels : undefined,
    })],
  };
};

const ratioConfig = (col: number) => () => {
  const p = RATIO_PANELS[col];
  const datasets: any[] = [
    line(p.for1, RED, 4),
    line(p.ede3, BLUE, 4),
    line(p.croton, BLACK, 3.5, 'dot'),
    line(p.delucia, BLACK, 3.5, 'dash'),
    line(ratioZero, BLACK, 3),
  ];
  return {
    type: 'scatter',
    data: { datasets },
    options: baseOptions(MF_X, RATIO_Y),
    plugins: [framePlugin({
      xMinor: 0.2, xMajor: massTicks, yMinor: 0.05, yMajor: ratioTicks,
      longLen: 28, shortLen: 13, tickW: 4, frameW: 5,
      xLabels: massLabels, xLabelOff: 37,
      yLabelsL: col === 0 ? ratioLabels : undefined,
      yLabelsR: col === 3 ? ratioLabels : undefined,
    })],
  };
};

const sfrConfig = () => {
  const datasets: any[] = [
    line(sfrFor1, RED, 4, 'solid', true),
    line(sfrEde3, BLUE, 4, 'solid', true),
    line(sfrCroton, BLACK, 4, 'dot', true),
    line(sfrDeLucia, BLACK, 3.5, 'dash', true),
    line(sfrGuo, BLACK, 3.5, 'solid', true),
  ];
  datasets[3].borderDash = [21, 13];
  return {
    type: 'scatter',
    data: { datasets },
    options: baseOptions(SFR_X, SFR_Y),
    plugins: [
      errorBarPlugin(sfrObs),
      framePlugin({
        xMinor: 0.5, xMajor: redshiftTicks, yMinor: 0.1, yMajor: sfrTicks,
        longLen: 28, shortLen: 15, tickW: 3.5, frameW: 4,
        xLabels: redshiftTicks.map((v) => [v, String(v)] as [number, string]), xLabelOff: 40,
        yLabelsL: sfrTicks.map((v) => [v, minus(String(v))] as [number, string]), yOffL: 30,
      }),
      sfrLegendPlugin,
    ],
  };
};

function ChartBox({ frame, pad, make }: { frame: number[]; pad: number[]; make: () => any }) {
  const ref = useRef<HTMLCanvasElement>(null);
  const [x0, y0, x1, y1] = frame;
  const [pl, pt, pr, pb] = pad;
  const w = x1 - x0 + pl + pr;
  const h = y1 - y0 + pt + pb;
  useEffect(() => {
    const cfg = make();
    cfg.options.layout = { padding: { left: pl, top: pt, right: pr, bottom: pb } };
    const chart = new Chart(ref.current as HTMLCanvasElement, cfg);
    return () => chart.destroy();
  }, []);
  return (
    <canvas
      ref={ref}
      width={w}
      height={h}
      style={{ position: 'absolute', left: x0 - pl, top: y0 - pt, width: w, height: h }}
    />
  );
}

function Label({ x, y, rot, font, children }: { x: number; y: number; rot?: boolean; font: string; children: React.ReactNode }) {
  return (
    <div
      style={{
        position: 'absolute', left: x, top: y,
        transform: `translate(-50%, -50%)${rot ? ' rotate(-90deg)' : ''}`,
        font, whiteSpace: 'nowrap', lineHeight: 1, color: '#000',
      }}
    >
      {children}
    </div>
  );
}

const Sub = ({ children }: { children: React.ReactNode }) => (
  <span style={{ fontSize: '0.55em', verticalAlign: '-0.45em' }}>{children}</span>
);
const Sup = ({ children }: { children: React.ReactNode }) => (
  <span style={{ fontSize: '0.55em', verticalAlign: '0.85em' }}>{children}</span>
);

const TITLE_X = [342, 676, 1012, 1343];
const AXIS_FONT = 'bold 46px "Liberation Serif"';

export default function App() {
  return (
    <div style={{ position: 'absolute', left: 0, top: 0, width: 1561, height: 1544, background: '#fff', overflow: 'hidden' }}>
      {[0, 1, 2, 3].map((c) => (
        <ChartBox
          key={`mf${c}`}
          frame={[COL_X[c], MF_ROW[0], COL_X[c + 1], MF_ROW[1]]}
          pad={[c === 0 ? 90 : 6, 6, c === 3 ? 70 : 6, 6]}
          make={mfConfig(c)}
        />
      ))}
      {[0, 1, 2, 3].map((c) => (
        <ChartBox
          key={`ratio${c}`}
          frame={[COL_X[c], RATIO_ROW[0], COL_X[c + 1], RATIO_ROW[1]]}
          pad={[c === 0 ? 90 : 6, 6, c === 3 ? 70 : 6, 70]}
          make={ratioConfig(c)}
        />
      ))}
      <ChartBox frame={SFR_FRAME} pad={[90, 50, 10, 70]} make={sfrConfig} />

      {panelTitles.map((t, i) => (
        <Label key={t} x={TITLE_X[i]} y={36} font={'49px "DejaVu Serif"'}>{t}</Label>
      ))}
      <Label x={62} y={222} rot font={AXIS_FONT}>Log(Φ)</Label>
      <Label x={62} y={552} rot font={AXIS_FONT}>Log(Φ/Φ<Sub>LCDM</Sub>)</Label>
      <Label x={842} y={808} font={'bold 55px "Liberation Serif"'}>Log(M<Sub>star</Sub>/M<Sub>⊙</Sub>)</Label>
      <Label x={46} y={1128} rot font={'bold 50px "Liberation Serif"'}>
        Log(ρ<Sub>SFR</Sub> &nbsp;/&nbsp; M<Sub>⊙</Sub>yr<Sup>−1</Sup>&nbsp; Mpc<Sup>−3</Sup>)
      </Label>
      <Label x={830} y={1518} font={'bold 60px "Liberation Serif"'}>Redshift</Label>
    </div>
  );
}
